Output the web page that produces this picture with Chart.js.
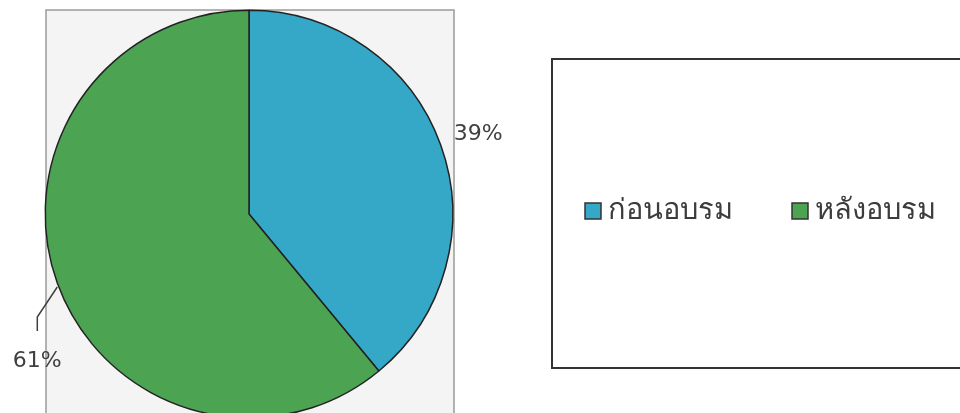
<!DOCTYPE html>
<html>
<head>
<meta charset="utf-8">
<script src="https://cdn.jsdelivr.net/npm/chart.js@4"></script>
<style>
  html, body { margin: 0; background: #fff; overflow: hidden; }
  #wrap { width: 960px; height: 430px; position: relative; }
</style>
</head>
<body>
<div id="wrap"><canvas id="pieChart" width="960" height="430"></canvas></div>
<script>
const labels = ['ก่อนอบรม', 'หลังอบรม'];
const values = [39, 61];
const colors = ['#35a8c8', '#4ca352'];

const fontFamily = "Tahoma, 'DejaVu Sans', 'Noto Sans', sans-serif";

// grey plot area behind the pie
const plotBack = {
    id: 'plotBack',
    beforeDraw(chart) {
        const ctx = chart.ctx;
        ctx.save();
        ctx.fillStyle = '#f4f4f4';
        ctx.fillRect(46, 10, 408, 430);
        ctx.strokeStyle = '#9a9a9a';
        ctx.lineWidth = 1.5;
        ctx.strokeRect(46, 10, 408, 430);
        ctx.restore();
    }
};

// percent labels + boxed legend on the right
const extras = {
    id: 'extras',
    afterDraw(chart) {
        const ctx = chart.ctx;
        const arcs = chart.getDatasetMeta(0).data;
        ctx.save();
        ctx.font = '22px ' + fontFamily;
        ctx.fillStyle = '#404040';
        ctx.textBaseline = 'middle';

        arcs.forEach((arc, i) => {
            const mid = (arc.startAngle + arc.endAngle) / 2;
            const ex = arc.x + Math.cos(mid) * arc.outerRadius;
            const ey = arc.y + Math.sin(mid) * arc.outerRadius;
            const txt = values[i] + '%';
            if (i === 0) {
                ctx.textAlign = 'left';
                ctx.fillText(txt, ex + 13, ey - 11);
            } else {
                ctx.strokeStyle = '#404040';
                ctx.lineWidth = 1.5;
                ctx.beginPath();
                ctx.moveTo(ex, ey + 4);
                ctx.lineTo(ex - 20, ey + 34);
                ctx.lineTo(ex - 20, ey + 48);
                ctx.stroke();
                ctx.textAlign = 'center';
                ctx.fillText(txt, ex - 20, ey + 78);
            }
        });

        // legend box
        ctx.strokeStyle = '#333';
        ctx.lineWidth = 2;
        ctx.strokeRect(552, 59, 420, 309);

        ctx.font = '29px ' + fontFamily;
        ctx.textAlign = 'left';
        const legendX = [585, 792];
        labels.forEach((lab, i) => {
            ctx.fillStyle = colors[i];
            ctx.fillRect(legendX[i], 203, 16, 16);
            ctx.strokeStyle = '#333';
            ctx.lineWidth = 1.5;
            ctx.strokeRect(legendX[i], 203, 16, 16);
            ctx.fillStyle = '#3c3c3c';
            ctx.fillText(lab, legendX[i] + 23, 211);
        });
        ctx.restore();
    }
};

new Chart(document.getElementById('pieChart'), {
    type: 'pie',
    data: {
        labels: labels,
        datasets: [{
            data: values,
            backgroundColor: colors,
            borderColor: '#222',
            borderWidth: 1.5,
            hoverOffset: 0,
            hoverBorderWidth: 1.5
        }]
    },
    options: {
        responsive: false,
        animation: false,
        layout: { padding: { left: 44.5, right: 506.5, top: 9.5, bottom: 11.5 } },
        plugins: {
            legend: { display: false },
            tooltip: { enabled: false }
        }
    },
    plugins: [plotBack, extras]
});
</script>
</body>
</html>
